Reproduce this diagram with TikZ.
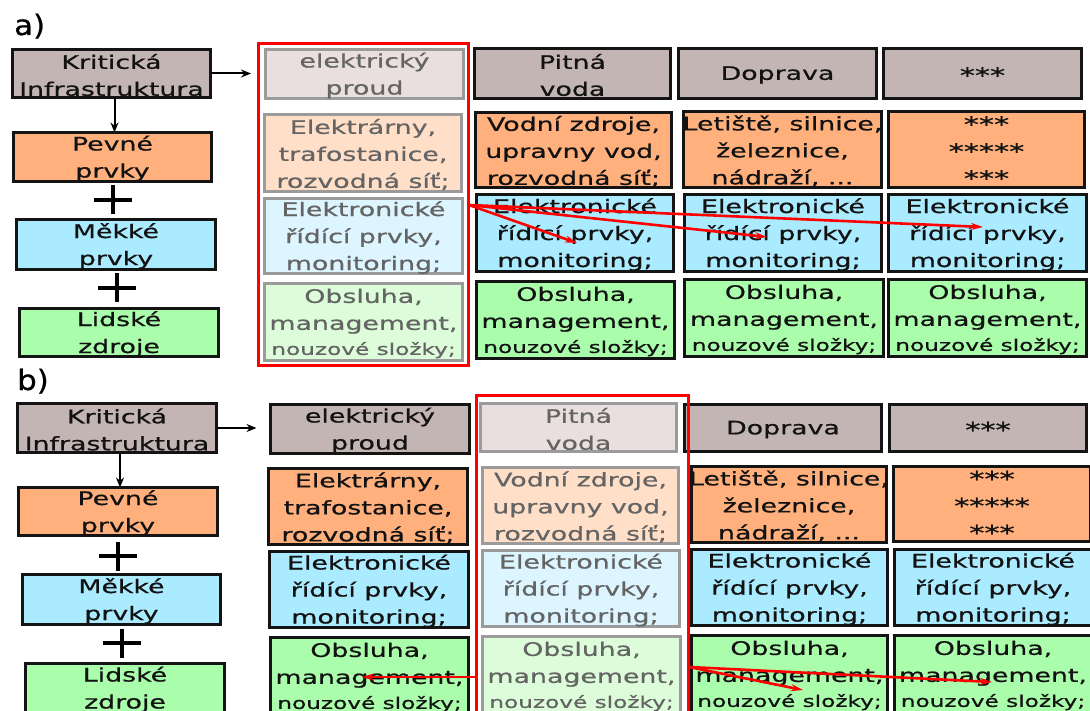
\documentclass[tikz,border=0pt]{standalone}
\usepackage{fontspec}
\setmainfont{DejaVu Sans}[FakeStretch=1.44,FakeBold=0.7]
\newfontfamily\panelfont{DejaVu Sans}[FakeStretch=1.1,FakeBold=0.7]
\usetikzlibrary{arrows.meta}

\definecolor{hdrfill}{RGB}{196,181,181}
\definecolor{orfill}{RGB}{255,176,124}
\definecolor{blfill}{RGB}{170,235,255}
\definecolor{grfill}{RGB}{170,253,170}
\definecolor{fhdrfill}{RGB}{233,223,223}
\definecolor{forfill}{RGB}{255,223,200}
\definecolor{fblfill}{RGB}{221,245,255}
\definecolor{fgrfill}{RGB}{221,253,218}
\definecolor{fborder}{RGB}{155,155,155}
\definecolor{ftext}{RGB}{100,100,100}
\definecolor{hilite}{RGB}{255,0,0}

\tikzset{
  cellbase/.style={rectangle, inner sep=0pt, outer sep=0pt},
  solidcell/.style={cellbase, draw=black!92, line width=3pt},
  fadecell/.style={cellbase, draw=fborder, line width=3pt},
  hdr/.style={solidcell, fill=hdrfill},
  orng/.style={solidcell, fill=orfill},
  blu/.style={solidcell, fill=blfill},
  grn/.style={solidcell, fill=grfill},
  fhdr/.style={fadecell, fill=fhdrfill},
  forng/.style={fadecell, fill=forfill},
  fblu/.style={fadecell, fill=fblfill},
  fgrn/.style={fadecell, fill=fgrfill},
  txt/.style={inner sep=0pt, align=center, text=black!93,
    font=\fontsize{18.6}{27}\selectfont, yshift=-1.5pt},
  ftxt/.style={txt, text=ftext},
  plussign/.style={minimum width=38pt, minimum height=29pt, inner sep=0pt,
    path picture={\draw[line width=4.5pt]
      (path picture bounding box.west) -- (path picture bounding box.east)
      (path picture bounding box.north) -- (path picture bounding box.south);}},
  flowarrow/.style={line width=2pt, black, -{Stealth[length=10pt,width=8pt]}},
  redarrow/.style={line width=2.6pt, hilite, -{Stealth[length=12pt,width=7pt]}},
  redframe/.style={draw=hilite, line width=3pt},
  panellabel/.style={anchor=base west, inner sep=0pt,
    font=\panelfont\fontsize{28}{28}\selectfont},
}

% \cell{box style}{text style}{name}{x1}{y1}{x2}{y2}{text}
\newcommand\cell[8]{%
  \node[#1, minimum width={(#6-#4-3)*1pt}, minimum height={(#7-#5-3)*1pt}]
    (#3) at ({(#4+#6)/2},{(#5+#7)/2}) {};
  \node[#2] (#3-t) at (#3.center) {#8};}

\newcommand\staffline{Obsluha,\\management,\\[-2pt]{\fontsize{16.1}{20}\selectfont nouzové složky;}}
\newcommand\ctrlline{Elektronické\\řídící prvky,\\monitoring;}
\newcommand\stars[1]{\raisebox{-2pt}{\fontsize{21}{27}\selectfont #1}}

\begin{document}
\begin{tikzpicture}[x={(1pt,0)}, y={(0,-1pt)}]
\useasboundingbox (0,0) rectangle (1090,711);
\clip (0,0) rectangle (1090,711);
\fill[white] (0,0) rectangle (1090,711);

% ---------------- panel a ----------------
\node[panellabel] (labA) at (14,35) {a)};

\cell{hdr}{txt}{kritA}{11}{48}{212}{99}{Kritická\\Infrastruktura}
\cell{orng}{txt}{pevA}{12}{131}{213}{183}{Pevné\\prvky}
\cell{blu}{txt}{mekA}{15}{218}{217}{271}{Měkké\\prvky}
\cell{grn}{txt}{lidA}{18}{307}{220}{358}{Lidské\\zdroje}
\node[plussign] (plusA1) at (113,200) {};
\node[plussign] (plusA2) at (117,288) {};

% highlighted sector: electricity
\cell{fhdr}{ftxt}{hdrA0}{264}{48}{465}{100}{elektrický\\proud}
\cell{forng}{ftxt}{orA0}{263}{113}{463}{193}{Elektrárny,\\trafostanice,\\rozvodná síť;}
\cell{fblu}{ftxt}{blA0}{263}{197}{464}{275}{\ctrlline}
\cell{fgrn}{ftxt}{grA0}{263}{282}{464}{362}{\staffline}

% drinking water
\cell{hdr}{txt}{hdrA1}{473}{47}{672}{100}{Pitná\\voda}
\cell{orng}{txt}{orA1}{474}{111}{673}{189}{Vodní zdroje,\\upravny vod,\\rozvodná síť;}
\cell{blu}{txt}{blA1}{475}{193}{675}{273}{\ctrlline}
\cell{grn}{txt}{grA1}{475}{280}{676}{360}{\staffline}

% transport
\cell{hdr}{txt}{hdrA2}{677}{47}{878}{100}{Doprava}
\cell{orng}{txt}{orA2}{682}{110}{883}{189}{Letiště, silnice,\\železnice,\\nádraží, ...}
\cell{blu}{txt}{blA2}{683}{193}{883}{273}{\ctrlline}
\cell{grn}{txt}{grA2}{683}{278}{885}{358}{\staffline}

% further sectors
\cell{hdr}{txt}{hdrA3}{882}{47}{1083}{100}{\stars{***}}
\cell{orng}{txt}{orA3}{887}{110}{1086}{189}{\stars{***}\\\stars{*****}\\\stars{***}}
\cell{blu}{txt}{blA3}{887}{193}{1088}{273}{\ctrlline}
\cell{grn}{txt}{grA3}{887}{278}{1088}{358}{\staffline}

\node[redframe, minimum width=210pt, minimum height=322pt, inner sep=0pt]
  (redA) at (363.5,204.5) {};

\draw[flowarrow, shorten >=6pt] (kritA.east) -- (kritA.east -| redA.west);
\draw[flowarrow] ([xshift=3pt]kritA.south) -- ([xshift=3pt]kritA.south |- pevA.north);

\coordinate (srcA) at (469,205);
\coordinate (tipA1) at (577,243);
\coordinate (tipA2) at (767,237);
\coordinate (tipA3) at (983,227);
\draw[redarrow] (srcA) -- (tipA1);
\draw[redarrow] (srcA) -- (tipA2);
\draw[redarrow] (srcA) -- (tipA3);

% ---------------- panel b ----------------
\node[panellabel] (labB) at (17,390) {b)};

\cell{hdr}{txt}{kritB}{16}{402}{218}{454}{Kritická\\Infrastruktura}
\cell{orng}{txt}{pevB}{17}{486}{219}{537}{Pevné\\prvky}
\cell{blu}{txt}{mekB}{21}{573}{222}{626}{Měkké\\prvky}
\cell{grn}{txt}{lidB}{24}{662}{226}{714}{Lidské\\zdroje}
\node[plussign] (plusB1) at (118,556) {};
\node[plussign] (plusB2) at (122,643) {};

% electricity
\cell{hdr}{txt}{hdrB0}{269}{403}{471}{455}{elektrický\\proud}
\cell{orng}{txt}{orB0}{267}{467}{469}{546}{Elektrárny,\\trafostanice,\\rozvodná síť;}
\cell{blu}{txt}{blB0}{268}{550}{470}{629}{\ctrlline}
\cell{grn}{txt}{grB0}{269}{636}{470}{716}{\staffline}

% highlighted sector: drinking water
\cell{fhdr}{ftxt}{hdrB1}{479}{402}{678}{453}{Pitná\\voda}
\cell{forng}{ftxt}{orB1}{481}{466}{680}{545}{Vodní zdroje,\\upravny vod,\\rozvodná síť;}
\cell{fblu}{ftxt}{blB1}{481}{549}{681}{628}{\ctrlline}
\cell{fgrn}{ftxt}{grB1}{481}{635}{682}{715}{\staffline}

% transport
\cell{hdr}{txt}{hdrB2}{683}{403}{883}{453}{Doprava}
\cell{orng}{txt}{orB2}{690}{465}{888}{544}{Letiště, silnice,\\železnice,\\nádraží, ...}
\cell{blu}{txt}{blB2}{690}{548}{889}{627}{\ctrlline}
\cell{grn}{txt}{grB2}{690}{634}{889}{714}{\staffline}

% further sectors
\cell{hdr}{txt}{hdrB3}{888}{403}{1088}{453}{\stars{***}}
\cell{orng}{txt}{orB3}{892}{465}{1092}{543}{\stars{***}\\\stars{*****}\\\stars{***}}
\cell{blu}{txt}{blB3}{893}{548}{1093}{627}{\ctrlline}
\cell{grn}{txt}{grB3}{893}{634}{1093}{714}{\staffline}

\node[redframe, minimum width=212pt, minimum height=327pt, inner sep=0pt]
  (redB) at (582,558.5) {};

\draw[flowarrow, shorten >=14pt] (kritB.east) -- (kritB.east -| hdrB0.west);
\draw[flowarrow] ([xshift=3pt]kritB.south) -- ([xshift=3pt]kritB.south |- pevB.north);

\coordinate (srcBL) at (476,677);
\coordinate (tipBL) at (362,677);
\coordinate (srcBR) at (689,667);
\coordinate (tipBR1) at (803,690);
\coordinate (tipBR2) at (992,682);
\draw[redarrow] (srcBL) -- (tipBL);
\draw[redarrow] (srcBR) -- (tipBR1);
\draw[redarrow] (srcBR) -- (tipBR2);
\end{tikzpicture}
\end{document}
